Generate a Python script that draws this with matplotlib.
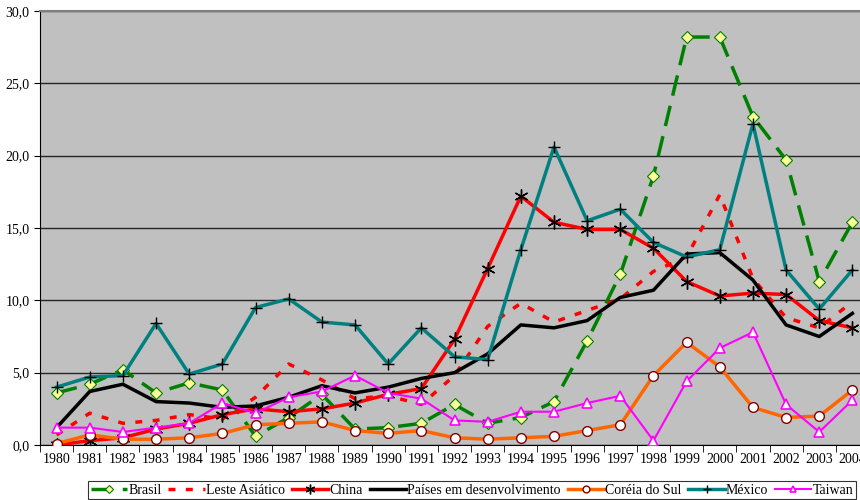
"""Taxa de crescimento - comparacao de paises, 1980-2004.
"""
import numpy as np
import matplotlib
matplotlib.use('Agg')
import matplotlib.pyplot as plt
from matplotlib.ticker import FuncFormatter, MultipleLocator

plt.rcParams['font.family'] = ['Liberation Serif', 'DejaVu Serif']

years = list(range(1980, 2005))

brasil = [3.6, 4.2, 5.2, 3.6, 4.3, 3.8, 0.6, 1.9, 3.5, 1.1, 1.2, 1.5, 2.8,
          1.5, 1.9, 3.0, 7.2, 11.8, 18.6, 28.2, 28.2, 22.7, 19.7, 11.3, 15.4]
leste_asiatico = [0.7, 2.2, 1.5, 1.7, 2.1, 1.8, 3.3, 5.6, 4.5, 3.2, 3.4, 2.8,
                  4.8, 8.2, 9.8, 8.5, 9.3, 10.1, 12.0, 13.0, 17.3, 11.5, 8.8,
                  8.1, 9.9]
china = [0.0, 0.3, 0.5, 1.1, 1.5, 2.1, 2.5, 2.3, 2.5, 2.9, 3.5, 3.9, 7.3,
         12.2, 17.2, 15.4, 14.9, 14.9, 13.6, 11.3, 10.3, 10.5, 10.4, 8.6, 8.1]
paises_dev = [1.2, 3.7, 4.2, 3.0, 2.9, 2.6, 2.7, 3.3, 4.1, 3.6, 4.0, 4.6,
              5.0, 6.3, 8.3, 8.1, 8.6, 10.2, 10.7, 13.2, 13.3, 11.4, 8.3,
              7.5, 9.1]
coreia = [0.1, 0.7, 0.4, 0.4, 0.5, 0.8, 1.4, 1.5, 1.6, 1.0, 0.8, 1.0, 0.5,
          0.4, 0.5, 0.6, 1.0, 1.4, 4.8, 7.1, 5.4, 2.6, 1.9, 2.0, 3.8]
mexico = [4.0, 4.7, 4.8, 8.4, 4.9, 5.6, 9.5, 10.1, 8.5, 8.3, 5.6, 8.1, 6.1,
          5.9, 13.5, 20.6, 15.5, 16.3, 14.0, 13.0, 13.5, 22.2, 12.1, 9.4, 12.1]
taiwan = [1.2, 1.2, 0.9, 1.2, 1.5, 2.9, 2.2, 3.3, 3.7, 4.8, 3.6, 3.2, 1.7,
          1.6, 2.3, 2.3, 2.9, 3.4, 0.3, 4.4, 6.7, 7.8, 2.8, 0.9, 3.1]

fig = plt.figure(figsize=(8.6, 5.0), dpi=100)
# plot area runs past the right edge, as in the original
ax = fig.add_axes([40 / 860., 55 / 500., 829 / 860., 434 / 500.])
ax.set_facecolor('#c0c0c0')

x = np.arange(len(years))

ax.plot(x, brasil, color='#008000', lw=2.5, dashes=(6, 3),
        marker='D', ms=6, mfc='#ffff99', mec='#008000', mew=0.8,
        label='Brasil', zorder=3)
ax.plot(x, leste_asiatico, color='#ff0000', lw=2.5, dashes=(2, 3),
        label='Leste Asiático', zorder=3)
ax.plot(x, china, color='#ff0000', lw=2.5, marker=(6, 2, 0), ms=10,
        mec='black', mew=1.0, label='China', zorder=3)
ax.plot(x, paises_dev, color='black', lw=2.5,
        label='Países em desenvolvimento', zorder=3)
ax.plot(x, coreia, color='#ff6600', lw=2.5, marker='o', ms=7,
        mfc='white', mec='#800000', mew=1.0, label='Coréia do Sul', zorder=3)
ax.plot(x, mexico, color='#008080', lw=2.5, marker='+', ms=9,
        mec='black', mew=1.0, label='México', zorder=3)
ax.plot(x, taiwan, color='#ff00ff', lw=1.5, marker='^', ms=7,
        mfc='white', mec='#ff00ff', mew=1.2, label='Taiwan', zorder=3)

ax.set_ylim(0, 30)
ax.set_xlim(-0.5, len(years) - 0.5)
ax.yaxis.set_major_locator(MultipleLocator(5))
ax.yaxis.set_major_formatter(
    FuncFormatter(lambda v, p: '{:.1f}'.format(v).replace('.', ',')))
ax.grid(axis='y', color='#262626', lw=1.0)
ax.set_axisbelow(True)

ax.set_xticks(x)
ax.set_xticklabels([str(y) for y in years])
ax.set_xticks(np.arange(-0.5, len(years), 1.0), minor=True)
ax.tick_params(axis='x', which='major', length=0, labelsize=10, pad=6)
ax.tick_params(axis='x', which='minor', length=5, direction='out')
ax.tick_params(axis='y', length=4, direction='out', labelsize=10)

for s in ['top', 'right']:
    ax.spines[s].set_visible(False)
ax.spines['left'].set_color('black')
ax.spines['bottom'].set_color('black')
ax.axhline(30, color='#808080', lw=1.5, zorder=4, clip_on=False)

handles, labels = ax.get_legend_handles_labels()
leg = fig.legend(handles, labels, loc='center', ncol=7,
                 bbox_to_anchor=(0.549, 0.02), fontsize=10,
                 frameon=True, fancybox=False, edgecolor='black',
                 handlelength=2.6, handletextpad=0.1, columnspacing=0.5,
                 borderpad=0.2, markerscale=0.7)
leg.get_frame().set_linewidth(0.8)

fig.savefig('out.png', dpi=100)
